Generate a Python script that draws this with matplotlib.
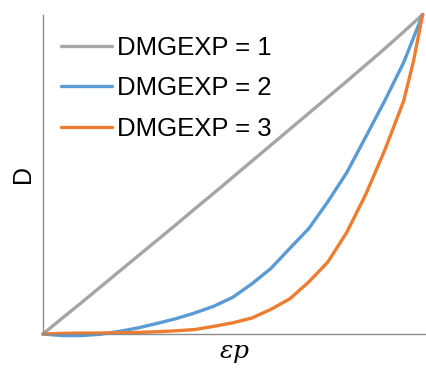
import matplotlib
matplotlib.use('Agg')
import matplotlib.pyplot as plt
import numpy as np

# values (normalised 0..1)
ep = [0, 0.05, 0.1, 0.15, 0.2, 0.25, 0.3, 0.35, 0.4, 0.45, 0.5,
      0.55, 0.6, 0.65, 0.7, 0.75, 0.8, 0.85, 0.9, 0.95, 0.975, 1.0]
d_exp1 = [0, 0.049, 0.097, 0.146, 0.195, 0.244, 0.293, 0.342, 0.392, 0.441, 0.491,
          0.541, 0.591, 0.641, 0.691, 0.741, 0.791, 0.842, 0.893, 0.946, 0.973, 1.0]
d_exp2 = [0, -0.005, -0.005, -0.001, 0.008, 0.019, 0.033, 0.048, 0.066, 0.087, 0.115,
          0.157, 0.205, 0.268, 0.33, 0.414, 0.505, 0.617, 0.73, 0.85, 0.925, 1.0]
d_exp3 = [0, 0.002, 0.003, 0.003, 0.004, 0.005, 0.007, 0.01, 0.014, 0.024, 0.035,
          0.05, 0.077, 0.11, 0.163, 0.225, 0.318, 0.437, 0.575, 0.73, 0.85, 1.0]
labels = ['DMGEXP = 1', 'DMGEXP = 2', 'DMGEXP = 3']
colors = ['#A5A5A5', '#5B9BD5', '#ED7D31']

plt.rcParams['font.family'] = ['Liberation Sans', 'DejaVu Sans']
plt.rcParams['mathtext.fontset'] = 'dejavuserif'

fig = plt.figure(figsize=(4.26, 3.70), dpi=100)
ax = fig.add_axes([43 / 426, 36 / 370, 383 / 426, 319.5 / 370])

for d, lab, c in zip([d_exp1, d_exp2, d_exp3], labels, colors):
    ax.plot(ep, d, color=c, lw=2.4, label=lab, clip_on=False,
            solid_capstyle='round', solid_joinstyle='round')

ax.set_xlim(0, 1.0087)
ax.set_ylim(0, 1)
ax.set_xticks([])
ax.set_yticks([])
for s in ['top', 'right']:
    ax.spines[s].set_visible(False)
for s in ['left', 'bottom']:
    ax.spines[s].set_color('#8C8C8C')
    ax.spines[s].set_linewidth(1.0)

ax.set_ylabel('D', fontsize=18, labelpad=6)
ax.set_xlabel(r'$\varepsilon p$', fontsize=18, labelpad=5)

ax.legend(loc='upper left', bbox_to_anchor=(0.02, 0.966), frameon=False, fontsize=18.5,
          handlelength=2.0, handletextpad=0.2, labelspacing=0.65, borderaxespad=0)

fig.savefig('out.png', dpi=100)
